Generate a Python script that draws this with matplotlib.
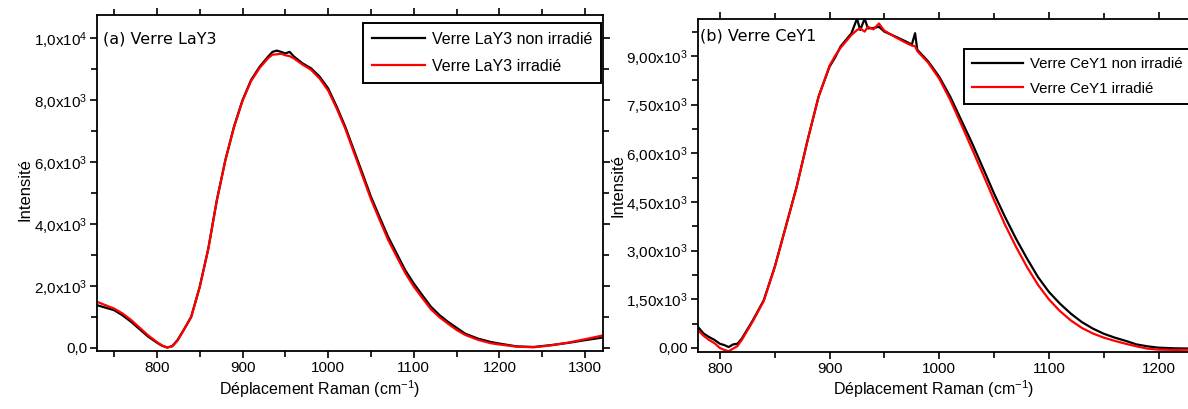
import matplotlib
matplotlib.use("Agg")
import matplotlib.pyplot as plt
from matplotlib.ticker import MultipleLocator, FixedLocator

plt.rcParams['font.family'] = ['Liberation Sans', 'DejaVu Sans']
plt.rcParams['mathtext.fontset'] = 'custom'
plt.rcParams['mathtext.rm'] = 'Liberation Sans'
plt.rcParams['mathtext.default'] = 'regular'

# ---- (a) Verre LaY3 ----
x_la = [730, 740, 750, 760, 770, 780, 790, 800, 806, 812, 818, 824, 830, 840, 850,
        860, 870, 880, 890, 900, 910, 920, 930, 935, 940, 945, 950, 955, 960, 970,
        980, 990, 1000, 1010, 1020, 1030, 1040, 1050, 1060, 1070, 1080, 1090, 1100,
        1110, 1120, 1130, 1140, 1150, 1160, 1175, 1190, 1200, 1220, 1240, 1260,
        1280, 1300, 1322]
la_non = [1380, 1300, 1220, 1050, 840, 600, 360, 170, 70, 10, 60, 250, 520, 1000, 1970,
          3200, 4770, 6070, 7140, 8000, 8650, 9080, 9410, 9560, 9600, 9560, 9510, 9560, 9410, 9190,
          9030, 8760, 8380, 7790, 7140, 6390, 5640, 4880, 4230, 3590, 3050, 2510, 2080,
          1700, 1330, 1060, 840, 650, 460, 300, 190, 140, 50, 30, 90,
          160, 250, 340]
la_irr = [1490, 1380, 1270, 1110, 900, 650, 400, 190, 80, 15, 50, 230, 510, 990, 1960,
          3190, 4760, 6060, 7120, 7980, 8620, 9040, 9360, 9470, 9480, 9500, 9450, 9420, 9350, 9150,
          8980, 8700, 8310, 7730, 7080, 6320, 5560, 4800, 4140, 3490, 2950, 2420, 1980,
          1610, 1250, 990, 780, 580, 420, 260, 150, 110, 40, 20, 80,
          170, 280, 410]

# ---- (b) Verre CeY1 ----
x_ce = [780, 785, 790, 795, 800, 804, 808, 812, 816, 820, 830, 840, 850, 860, 870, 880,
        890, 900, 905, 910, 920, 925, 928, 932, 935, 940, 945, 950, 960, 970, 975, 978,
        980, 990, 1000, 1010, 1020, 1030, 1040, 1050, 1060, 1070, 1080, 1090, 1100, 1110,
        1120, 1130, 1140, 1150, 1160, 1170, 1180, 1190, 1200, 1215, 1235]
ce_non = [650, 450, 340, 250, 130, 90, 30, 110, 130, 290, 850, 1470, 2500, 3730, 4970, 6410,
          7750, 8670, 8950, 9290, 9700, 10150, 9800, 10150, 9850, 9860, 9900, 9750, 9600, 9440, 9350, 9700,
          9190, 8830, 8360, 7750, 7030, 6310, 5540, 4760, 4040, 3370, 2760, 2190, 1730, 1370,
          1060, 800, 600, 440, 320, 220, 110, 50, 10, -10, -20]
ce_irr = [550, 380, 250, 150, 0, -60, -100, -20, 60, 250, 820, 1450, 2480, 3720, 4960, 6400,
          7740, 8700, 9000, 9250, 9650, 9800, 9850, 9750, 9900, 9820, 10000, 9780, 9580, 9400, 9320, 9300,
          9150, 8790, 8300, 7650, 6900, 6130, 5350, 4560, 3800, 3120, 2500, 1950, 1500, 1140,
          850, 620, 450, 320, 220, 130, 50, -20, -50, -60, -50]

yt_la = [0, 2000, 4000, 6000, 8000, 10000]
yl_la = ['0,0', '2,0x10$^3$', '4,0x10$^3$', '6,0x10$^3$', '8,0x10$^3$', '1,0x10$^4$']
yt_ce = [0, 1500, 3000, 4500, 6000, 7500, 9000]
yl_ce = ['0,00', '1,50x10$^3$', '3,00x10$^3$', '4,50x10$^3$', '6,00x10$^3$',
         '7,50x10$^3$', '9,00x10$^3$']

fig = plt.figure(figsize=(11.88, 4.09), dpi=100)
ax1 = fig.add_axes([0.0816, 0.1418, 0.4260, 0.8215])
ax2 = fig.add_axes([0.5875, 0.1394, 0.4200, 0.8134])


def style(ax, xmaj, ymaj, yt, yl):
    for s in ax.spines.values():
        s.set_linewidth(1.3)
    ax.xaxis.set_major_locator(MultipleLocator(xmaj))
    ax.xaxis.set_minor_locator(MultipleLocator(xmaj / 2))
    ax.yaxis.set_major_locator(FixedLocator(yt))
    ax.yaxis.set_minor_locator(MultipleLocator(ymaj / 2))
    ax.set_yticklabels(yl)
    ax.tick_params(which='both', direction='out', top=True, right=True, width=1.2,
                   labelsize=11, pad=2)
    ax.tick_params(which='major', length=5)
    ax.tick_params(which='minor', length=4)


ax1.plot(x_la, la_non, color='black', lw=1.6, label='Verre LaY3 non irradié')
ax1.plot(x_la, la_irr, color='red', lw=1.6, label='Verre LaY3 irradié')
ax1.set_xlim(730, 1321)
ax1.set_ylim(-100, 10750)
style(ax1, 100, 2000, yt_la, yl_la)
ax1.text(0.012, 0.93, '(a) Verre LaY3', transform=ax1.transAxes, fontsize=11.5,
         family='DejaVu Sans', va='center')
ax1.set_ylabel('Intensité', fontsize=12)
ax1.yaxis.set_label_coords(-0.128, 0.48)
ax1.set_xlabel('Déplacement Raman (cm$^{-1}$)', fontsize=11.5)
ax1.xaxis.set_label_coords(0.44, -0.08)
leg1 = ax1.legend(loc='upper left', bbox_to_anchor=(0.526, 0.976), fontsize=11.5,
                  frameon=True, fancybox=False, framealpha=1, edgecolor='black',
                  handlelength=3.3, handletextpad=0.45, labelspacing=0.75, borderpad=0.55,
                  borderaxespad=0)
leg1.get_frame().set_linewidth(1.4)

ax2.plot(x_ce, ce_non, color='black', lw=1.6, label='Verre CeY1 non irradié')
ax2.plot(x_ce, ce_irr, color='red', lw=1.6, label='Verre CeY1 irradié')
ax2.set_xlim(780, 1235)
ax2.set_ylim(-123, 10130)
style(ax2, 100, 1500, yt_ce, yl_ce)
ax2.text(0.004, 0.95, '(b) Verre CeY1', transform=ax2.transAxes, fontsize=11.5,
         family='DejaVu Sans', va='center')
ax2.set_ylabel('Intensité', fontsize=12)
ax2.yaxis.set_label_coords(-0.145, 0.5)
ax2.set_xlabel('Déplacement Raman (cm$^{-1}$)', fontsize=11.5)
ax2.xaxis.set_label_coords(0.473, -0.08)
leg2 = ax2.legend(loc='upper left', bbox_to_anchor=(0.533, 0.911), fontsize=10.8,
                  frameon=True, fancybox=False, framealpha=1, edgecolor='black',
                  handlelength=3.4, handletextpad=0.45, labelspacing=0.7, borderpad=0.55,
                  borderaxespad=0)
leg2.get_frame().set_linewidth(1.4)

fig.savefig('out.png', dpi=100)
